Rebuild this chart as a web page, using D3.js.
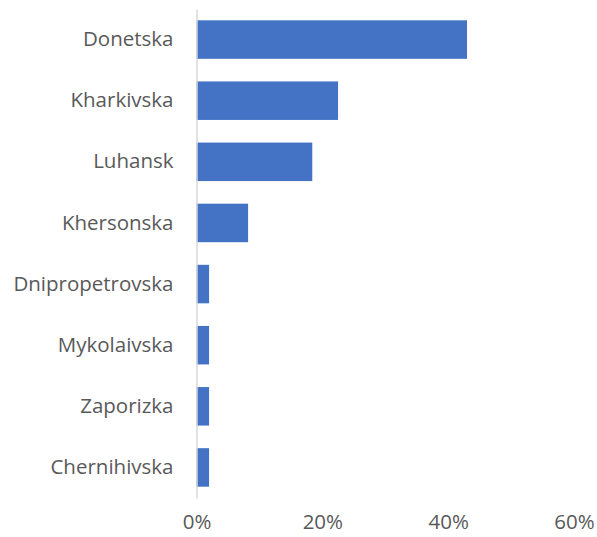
<!DOCTYPE html>
<html>
<head>
<meta charset="utf-8">
<script src="https://cdn.jsdelivr.net/npm/d3@7"></script>
<style>
  html, body { margin: 0; padding: 0; background: #fff; }
  svg text { font-family: "Open Sans", "Noto Sans", sans-serif; fill: #595959; }
</style>
</head>
<body>
<svg id="chart" width="597" height="537"></svg>
<script>
// Share of cases by oblast
const categories = ["Donetska", "Kharkivska", "Luhansk", "Khersonska",
                    "Dnipropetrovska", "Mykolaivska", "Zaporizka", "Chernihivska"];
const values = [0.43, 0.225, 0.184, 0.082, 0.02, 0.02, 0.02, 0.02];
const xTicks = [0, 0.2, 0.4, 0.6];

const svg = d3.select("#chart");
const plot = { left: 196.5, right: 574, top: 9, bottom: 498 };

const x = d3.scaleLinear().domain([0, 0.6]).range([plot.left, plot.right]);
const y = d3.scaleBand().domain(categories).range([plot.top, plot.bottom])
  .paddingInner(0.37).paddingOuter(0.185);

// bars
svg.append("g").selectAll("rect")
  .data(categories.map((c, i) => ({ c, v: values[i] })))
  .join("rect")
  .attr("x", x(0))
  .attr("y", d => y(d.c))
  .attr("width", d => x(d.v) - x(0))
  .attr("height", y.bandwidth())
  .attr("fill", "#4472C4");

// vertical category axis
const yAxis = svg.append("g")
  .attr("transform", `translate(${plot.left},0)`)
  .call(d3.axisLeft(y).tickSize(0).tickPadding(23));
yAxis.select(".domain").attr("stroke", "#d9d9d9").attr("stroke-width", 1.5);
yAxis.selectAll("text").attr("font-size", 20.5).attr("fill", "#595959");

// value labels along the bottom (no axis line)
const xAxis = svg.append("g")
  .attr("transform", `translate(0,${plot.bottom + 10})`)
  .call(d3.axisBottom(x).tickValues(xTicks).tickFormat(d3.format(".0%")).tickSize(0).tickPadding(6));
xAxis.select(".domain").remove();
xAxis.selectAll("text").attr("font-size", 20.5).attr("fill", "#595959");
</script>
</body>
</html>
